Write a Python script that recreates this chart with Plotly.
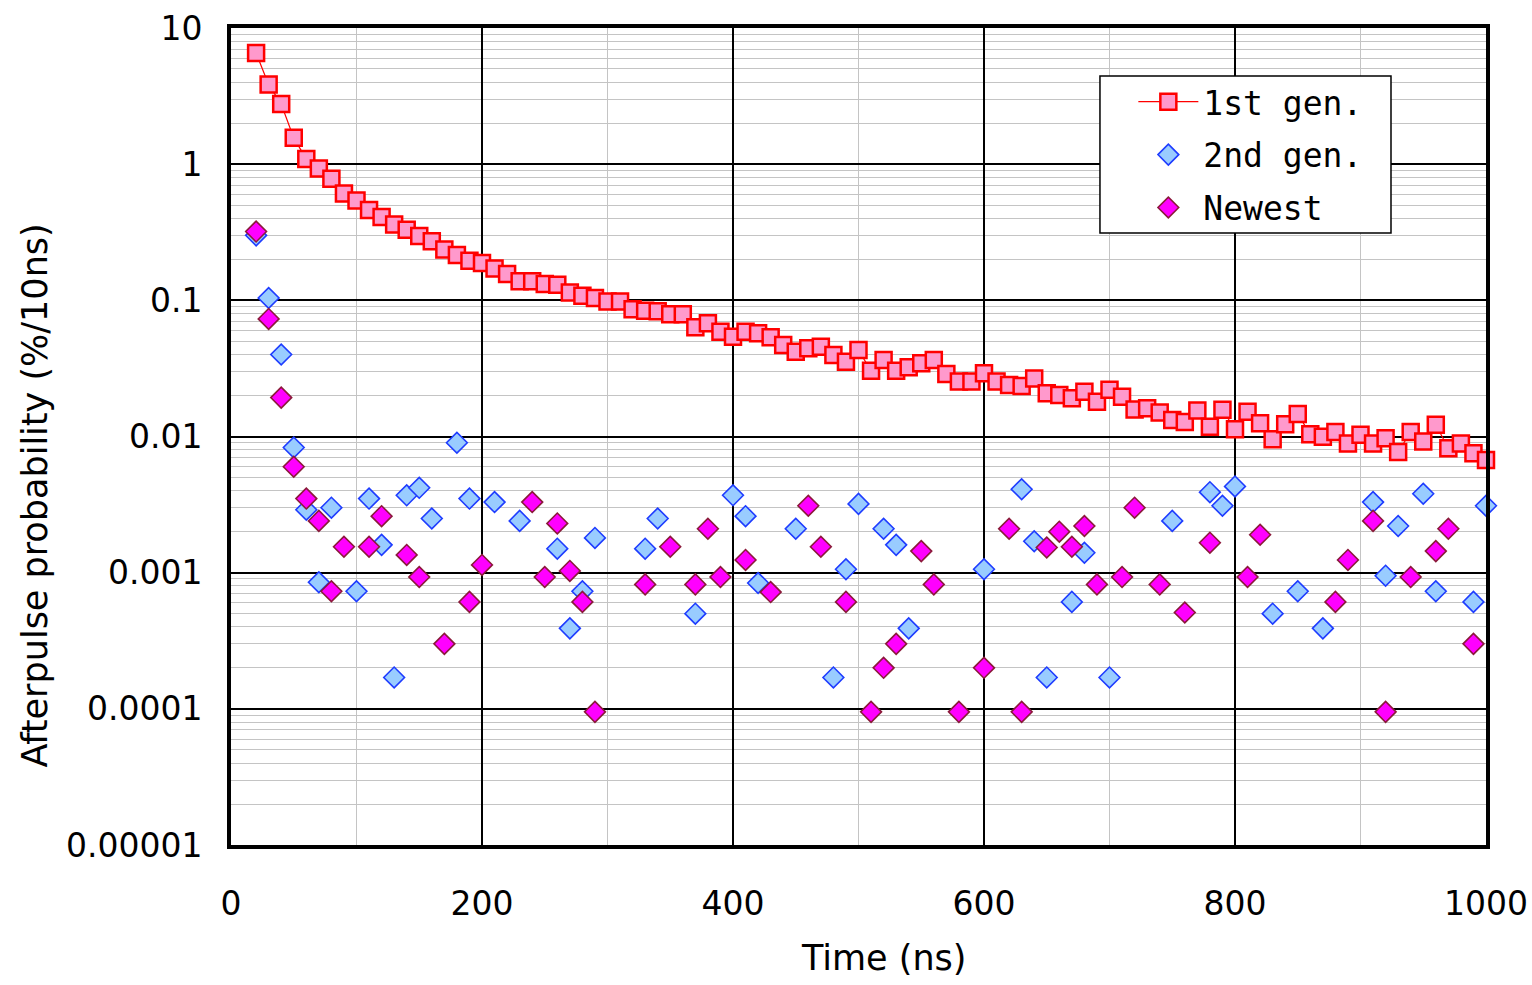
import plotly.graph_objects as go

# Afterpulse probability per 10 ns bin versus delay time
time_1st = list(range(20, 1001, 10))
prob_1st = [
    6.55, 3.84, 2.77, 1.56, 1.09, 0.93, 0.78, 0.61, 0.54,
    0.46, 0.41, 0.36, 0.33, 0.297, 0.272, 0.236, 0.215, 0.195, 0.188,
    0.171, 0.156, 0.138, 0.138, 0.132, 0.130, 0.114, 0.108, 0.104, 0.098,
    0.098, 0.086, 0.084, 0.083, 0.079, 0.079, 0.0634, 0.068, 0.0589, 0.054,
    0.0589, 0.0573, 0.0535, 0.047, 0.042, 0.0445, 0.0457, 0.0397, 0.0354, 0.0431,
    0.0304, 0.0365, 0.0304, 0.0322, 0.0345, 0.0365, 0.0288, 0.0253, 0.0253, 0.0291,
    0.0253, 0.0239, 0.0235, 0.0267, 0.0208, 0.0202, 0.0191, 0.0213, 0.018, 0.022,
    0.0196, 0.0158, 0.0161, 0.015, 0.0132, 0.0128, 0.0155, 0.0118, 0.0157, 0.0113,
    0.0152, 0.0125, 0.00953, 0.0123, 0.0146, 0.0104, 0.00997, 0.0108, 0.0089, 0.0103,
    0.0089, 0.0097, 0.0077, 0.0108, 0.0092, 0.0122, 0.0082, 0.0089, 0.00753, 0.00673,
]

time_2nd = [
    20, 30, 40, 50, 60, 70, 80, 100, 110, 120, 130, 140, 150, 160, 180, 190,
    210, 230, 260, 270, 280, 290, 330, 340, 370, 400, 410, 420, 450, 480, 490,
    500, 520, 530, 540, 600, 630, 640, 650, 670, 680, 700, 750, 780, 790, 800,
    830, 850, 870, 910, 920, 930, 950, 960, 990, 1000,
]
prob_2nd = [
    0.30, 0.104, 0.040, 0.0083, 0.0029, 0.00085, 0.0030, 0.00073, 0.0035, 0.0016,
    0.00017, 0.0037, 0.0042, 0.0025, 0.0090, 0.0035,
    0.0033, 0.0024, 0.0015, 0.00039, 0.00073, 0.0018, 0.0015, 0.0025, 0.0005,
    0.0037, 0.0026, 0.00084, 0.0021, 0.00017, 0.00106,
    0.0032, 0.0021, 0.0016, 0.00039, 0.00106, 0.0041, 0.0017, 0.00017, 0.00061,
    0.0014, 0.00017, 0.0024, 0.0039, 0.0031, 0.0043,
    0.0005, 0.00073, 0.00039, 0.0033, 0.00095, 0.0022, 0.0038, 0.00073, 0.00061, 0.0031,
]

time_new = [
    20, 30, 40, 50, 60, 70, 80, 90, 110, 120, 140, 150, 170, 190, 200,
    240, 250, 260, 270, 280, 290, 330, 350, 370, 380, 390, 410, 430,
    460, 470, 490, 510, 520, 530, 550, 560, 580, 600, 620, 630, 650,
    660, 670, 680, 690, 710, 720, 740, 760, 780, 810, 820, 880, 890,
    910, 920, 940, 960, 970, 990,
]
prob_new = [
    0.32, 0.073, 0.0193, 0.0060, 0.0035, 0.0024, 0.00073, 0.00155, 0.00155, 0.0026,
    0.00135, 0.00093, 0.0003, 0.00061, 0.00114,
    0.0033, 0.00093, 0.0023, 0.00103, 0.00061, 0.000095, 0.00082, 0.00155, 0.00082,
    0.0021, 0.00093, 0.00124, 0.00072,
    0.0031, 0.00155, 0.00061, 0.000095, 0.0002, 0.0003, 0.00144, 0.00082, 0.000095,
    0.0002, 0.0021, 0.000095, 0.00153,
    0.0020, 0.00155, 0.0022, 0.00082, 0.00093, 0.0030, 0.00082, 0.00051, 0.00166,
    0.00093, 0.0019, 0.00061, 0.00124,
    0.0024, 0.000095, 0.00093, 0.00144, 0.0021, 0.0003,
]

y_tick_vals = [1e-5, 1e-4, 1e-3, 1e-2, 1e-1, 1, 10]
y_tick_text = ["0.00001", "0.0001", "0.001", "0.01", "0.1", "1", "10"]
x_tick_vals = [0, 200, 400, 600, 800, 1000]

TICK_FONT = dict(family="DejaVu Sans", size=33, color="black")
TITLE_FONT = dict(family="DejaVu Sans", size=35, color="black")
LEGEND_FONT = dict(family="DejaVu Sans Mono", size=33, color="black")

fig = go.Figure()

fig.add_trace(go.Scatter(
    x=time_1st, y=prob_1st, name="1st gen.", mode="lines+markers",
    line=dict(color="#FF0000", width=1.2),
    marker=dict(symbol="square", size=16, color="#FF99CC",
                line=dict(color="#FF0000", width=2.5)),
    cliponaxis=False, legendgroup="g1",
))
fig.add_trace(go.Scatter(
    x=time_2nd, y=prob_2nd, name="2nd gen.", mode="markers",
    marker=dict(symbol="diamond", size=16, color="#99CCFF",
                line=dict(color="#1E3CFF", width=1.6)),
    cliponaxis=False, legendgroup="g2",
))
fig.add_trace(go.Scatter(
    x=time_new, y=prob_new, name="Newest", mode="markers",
    marker=dict(symbol="diamond", size=16, color="#FF00FF",
                line=dict(color="#8B1A3A", width=1.6)),
    cliponaxis=False, legendgroup="g3",
))

fig.update_layout(
    width=1532, height=985,
    margin=dict(l=231, r=46, t=28, b=140),
    paper_bgcolor="white", plot_bgcolor="white",
    showlegend=True,
    legend=dict(
        x=0.719, y=0.944, xanchor="left", yanchor="top",
        bgcolor="rgba(0,0,0,0)", borderwidth=0,
        font=LEGEND_FONT, itemwidth=60, tracegroupgap=7,
        traceorder="grouped",
    ),
    xaxis=dict(
        range=[0, 1000], tickvals=x_tick_vals, ticks="",
        tickfont=TICK_FONT, ticklabelstandoff=26, automargin=False,
        showgrid=True, gridcolor="black", gridwidth=2,
        minor=dict(dtick=100, showgrid=True, gridcolor="#C4C4C4", gridwidth=1),
        showline=True, mirror=True, linecolor="black", linewidth=4,
        zeroline=False,
    ),
    yaxis=dict(
        type="log", range=[-5, 1], tickvals=y_tick_vals, ticktext=y_tick_text,
        ticks="", tickfont=TICK_FONT, ticklabelstandoff=18, automargin=False,
        showgrid=True, gridcolor="black", gridwidth=2,
        minor=dict(dtick="D1", showgrid=True, gridcolor="#C4C4C4", gridwidth=1),
        showline=True, mirror=True, linecolor="black", linewidth=4,
        zeroline=False,
    ),
    shapes=[dict(
        type="rect", xref="paper", yref="paper",
        x0=0.6924, x1=0.9243, y0=0.749, y1=0.9412,
        line=dict(color="black", width=1.5), fillcolor="white", layer="above",
    )],
    annotations=[
        dict(text="Afterpulse probability (%/10ns)", xref="paper", yref="paper",
             x=-0.156, y=0.428, textangle=-90, showarrow=False,
             font=TITLE_FONT, xanchor="center", yanchor="middle"),
        dict(text="Time (ns)", xref="paper", yref="paper",
             x=0.520, y=-0.1383, showarrow=False,
             font=TITLE_FONT, xanchor="center", yanchor="middle"),
    ],
)

fig.write_html("out.html")
